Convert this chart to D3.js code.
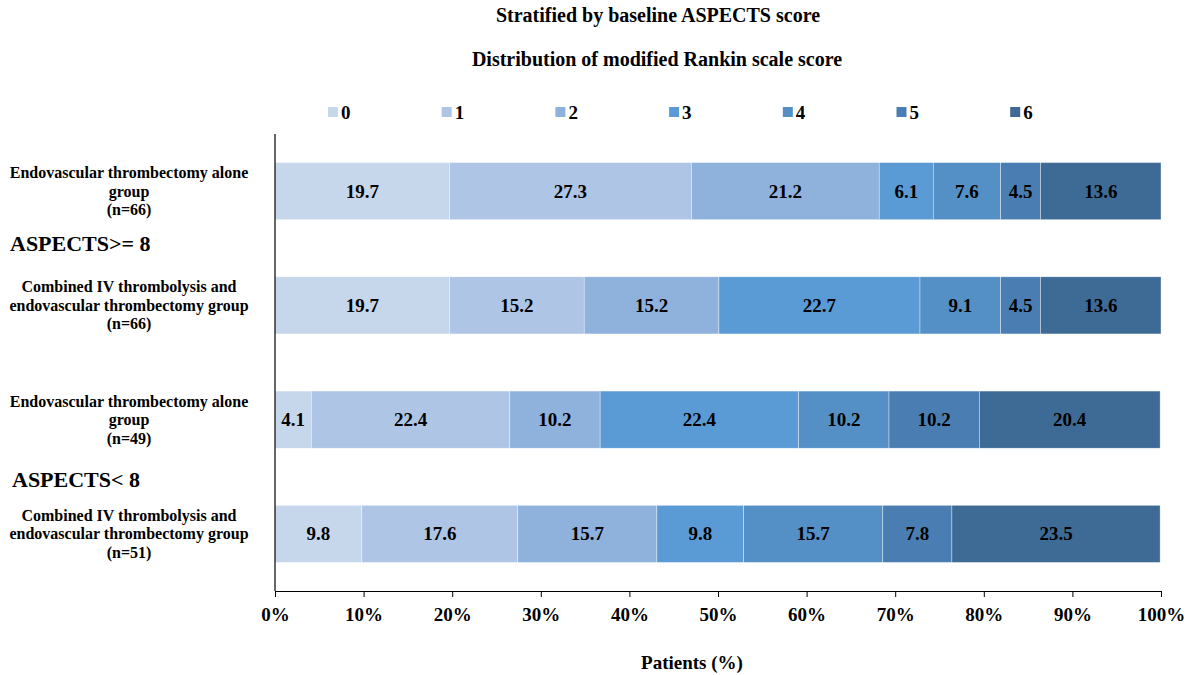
<!DOCTYPE html>
<html>
<head>
<meta charset="utf-8">
<script src="https://cdn.jsdelivr.net/npm/d3@7"></script>
<style>
  html, body { margin: 0; padding: 0; background: #fff; }
  svg text { font-family: "Liberation Serif", "Times New Roman", serif; font-weight: bold; fill: #000; }
</style>
</head>
<body>
<svg id="chart" width="1189" height="675"></svg>
<script>
// mRS score categories
const scores = ["0", "1", "2", "3", "4", "5", "6"];

// Treatment groups (top to bottom)
const groupIds = ["ge8_evt", "ge8_combo", "lt8_evt", "lt8_combo"];
const groupLabels = [
  ["Endovascular thrombectomy alone", "group", "(n=66)"],
  ["Combined IV thrombolysis and", "endovascular thrombectomy group", "(n=66)"],
  ["Endovascular thrombectomy alone", "group", "(n=49)"],
  ["Combined IV thrombolysis and", "endovascular thrombectomy group", "(n=51)"]
];

// Percent of patients at each mRS score, per group
const ge8EvtAlone = [19.7, 27.3, 21.2, 6.1, 7.6, 4.5, 13.6];
const ge8Combined = [19.7, 15.2, 15.2, 22.7, 9.1, 4.5, 13.6];
const lt8EvtAlone = [4.1, 22.4, 10.2, 22.4, 10.2, 10.2, 20.4];
const lt8Combined = [9.8, 17.6, 15.7, 9.8, 15.7, 7.8, 23.5];

// ASPECTS stratum labels
const strata = ["ASPECTS>= 8", "ASPECTS< 8"];

const xTicks = [0, 10, 20, 30, 40, 50, 60, 70, 80, 90, 100];

const colors = ["#c6d7ec", "#aec5e5", "#8fb2dd", "#5b9bd5", "#548fc5", "#4a7eb2", "#3e6b96"];

const rows = [ge8EvtAlone, ge8Combined, lt8EvtAlone, lt8Combined].map((vals, i) => {
  const o = { id: groupIds[i] };
  scores.forEach((s, j) => { o[s] = vals[j]; });
  return o;
});

const svg = d3.select("#chart");
const plotLeft = 275, plotRight = 1161, plotTop = 134, axisY = 591;

const x = d3.scaleLinear().domain([0, 100]).range([plotLeft, plotRight]);
const y = d3.scaleBand().domain(groupIds).range([plotTop, axisY]).paddingInner(0.5).paddingOuter(0.25);
const color = d3.scaleOrdinal().domain(scores).range(colors);

const series = d3.stack().keys(scores)(rows);

// Titles
svg.append("text").attr("x", 658).attr("y", 22).attr("text-anchor", "middle")
  .style("font-size", "20px").text("Stratified by baseline ASPECTS score");
svg.append("text").attr("x", 657).attr("y", 66).attr("text-anchor", "middle")
  .style("font-size", "20px").text("Distribution of modified Rankin scale score");

// Legend
const legend = svg.append("g");
scores.forEach((s, i) => {
  const lx = 328 + i * 113.7;
  legend.append("rect").attr("x", lx).attr("y", 107).attr("width", 10).attr("height", 10).attr("fill", color(s));
  legend.append("text").attr("x", lx + 13).attr("y", 119).style("font-size", "19px").text(s);
});

// Stacked bars
const layer = svg.append("g").selectAll("g").data(series).join("g").attr("fill", d => color(d.key));
layer.selectAll("rect").data(d => d).join("rect")
  .attr("x", d => x(d[0]))
  .attr("y", d => y(d.data.id))
  .attr("width", d => x(d[1]) - x(d[0]))
  .attr("height", y.bandwidth())
  .attr("stroke", "#ffffff").attr("stroke-width", 0.6).attr("stroke-opacity", 0.6);

// Value labels
series.forEach(s => {
  svg.append("g").selectAll("text").data(s).join("text")
    .attr("x", d => (x(d[0]) + x(d[1])) / 2)
    .attr("y", d => y(d.data.id) + y.bandwidth() / 2 + 6.5)
    .attr("text-anchor", "middle")
    .style("font-size", "19px")
    .text(d => (d[1] - d[0]).toFixed(1));
});

// X axis
const xAxis = d3.axisBottom(x).tickValues(xTicks).tickFormat(d => d + "%").tickSize(6).tickSizeOuter(0);
const gx = svg.append("g").attr("transform", `translate(0,${axisY})`).call(xAxis);
gx.select(".domain").attr("stroke", "#000").attr("stroke-width", 1.2);
gx.selectAll(".tick line").attr("stroke", "#000");
gx.selectAll(".tick text").attr("dy", "1.1em").style("font-size", "19px");

// Y axis line
svg.append("line").attr("x1", x(0)).attr("x2", x(0)).attr("y1", plotTop).attr("y2", axisY)
  .attr("stroke", "#000").attr("stroke-width", 1.2);

// Group labels
groupIds.forEach((id, i) => {
  const cy = y(id) + y.bandwidth() / 2;
  const t = svg.append("text").attr("text-anchor", "middle").style("font-size", "16px");
  groupLabels[i].forEach((line, k) => {
    t.append("tspan").attr("x", 129).attr("y", cy - 13 + k * 18.5).text(line);
  });
});

// Stratum labels, placed in the gap between each pair of bars
const strataShift = [3, 10];
strata.forEach((s, i) => {
  const a = groupIds[i * 2], b = groupIds[i * 2 + 1];
  const cy = (y(a) + y(b) + y.bandwidth()) / 2;
  svg.append("text").attr("x", 10 + i * 2).attr("y", cy + strataShift[i]).style("font-size", "22px").text(s);
});

// Axis title
svg.append("text").attr("x", 692).attr("y", 669).attr("text-anchor", "middle")
  .style("font-size", "19px").text("Patients (%)");
</script>
</body>
</html>
